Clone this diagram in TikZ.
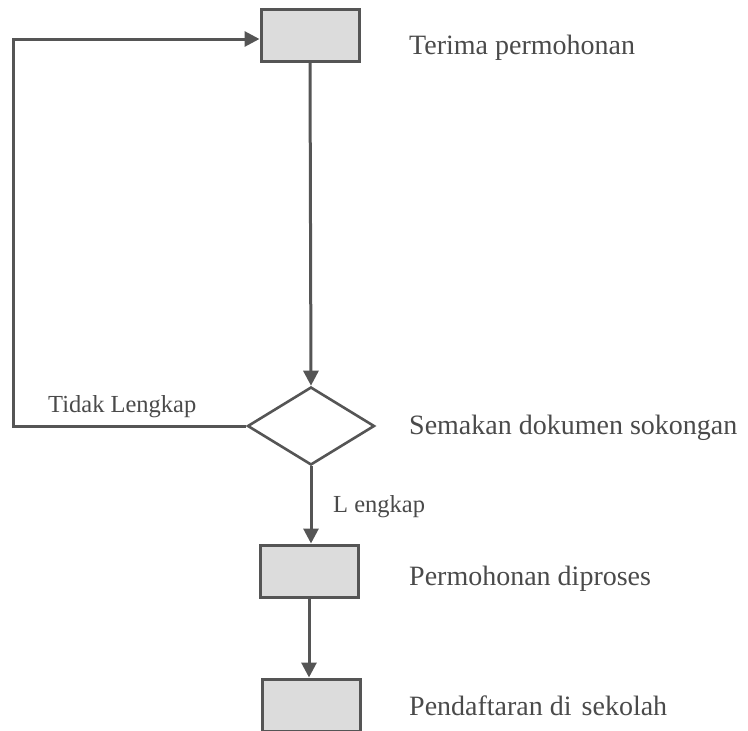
\documentclass[tikz,border=0pt]{standalone}
\usepackage{fontspec}
\setmainfont{Liberation Serif}
\usetikzlibrary{shapes.geometric,arrows.meta}
\definecolor{ink}{HTML}{555555}
\definecolor{txt}{HTML}{4A4A4A}
\definecolor{boxfill}{HTML}{DCDCDC}
\tikzset{
  x=1pt,y=-1pt,
  procbox/.style={draw=ink,fill=boxfill,line width=3pt,minimum width=98pt,minimum height=52pt,inner sep=0pt},
  decbox/.style={draw=ink,fill=white,line width=2.6pt,shape=diamond,minimum width=127pt,minimum height=78pt,inner sep=0pt},
  conn/.style={draw=ink,line width=3pt},
  arr/.style={conn,-{Triangle[length=15pt,width=15pt]}},
  sidetext/.style={anchor=base west,inner sep=0pt,text=txt,font=\fontsize{28}{30}\selectfont},
  lbltext/.style={anchor=base west,inner sep=0pt,text=txt,font=\fontsize{24.5}{26}\selectfont}
}
\begin{document}
\begin{tikzpicture}
\useasboundingbox (0,0) rectangle (748,731);
\node[procbox] (t) at (310,35) {};
\node[decbox] (d) at (311,426) {};
\node[procbox] (p) at (309,571) {};
\node[procbox] (s) at (311,705) {};
\coordinate (loopL) at (13,426);
\coordinate (loopT) at (13,39);
\draw[arr] (t.south) -- (d.north);
\draw[arr] (d.west) -- (loopL) -- (loopT) -- (t.west |- loopT);
\draw[arr] (d.south) -- (d.south |- p.north);
\draw[arr] (p.south) -- (p.south |- s.north);
\node[sidetext] (lt) at (409,54) {Terima permohonan};
\node[sidetext] (ld) at (409,434) {Semakan dokumen sokongan};
\node[sidetext] (lp) at (409,585) {Permohonan diproses};
\node[sidetext] (ls) at (409,715) {Pendaftaran di\hspace{10pt}sekolah};
\node[lbltext] (ltl) at (48,412) {Tidak Lengkap};
\node[lbltext] (ll) at (333,512) {L engkap};
\end{tikzpicture}
\end{document}
